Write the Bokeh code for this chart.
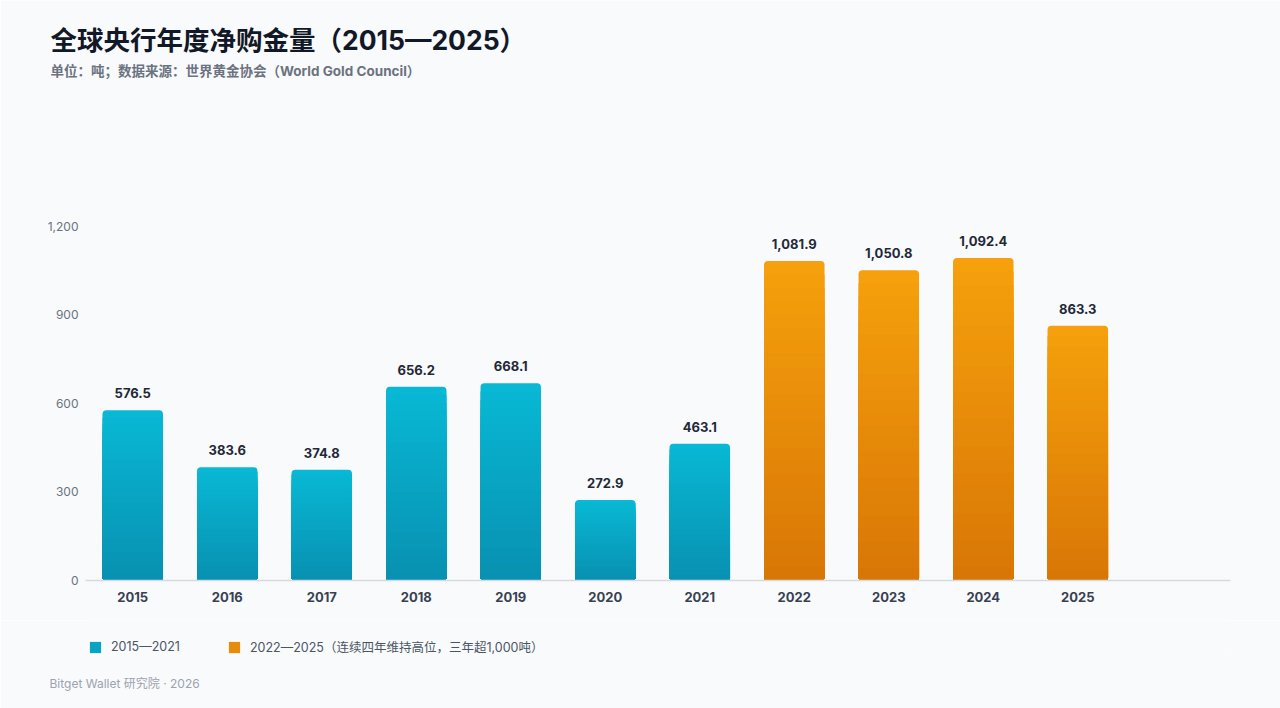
from bokeh.plotting import figure
from bokeh.models import ColumnDataSource, Range1d, FixedTicker, Title, Legend, LegendItem
from bokeh.layouts import column
from bokeh.core.properties import value
from bokeh.embed import file_html
from bokeh.resources import INLINE

years = ["2015", "2016", "2017", "2018", "2019", "2020", "2021", "2022", "2023", "2024", "2025"]
tonnes = [576.5, 383.6, 374.8, 656.2, 668.1, 272.9, 463.1, 1081.9, 1050.8, 1092.4, 863.3]
group = ["a"] * 7 + ["b"] * 4
y_ticks = [0, 300, 600, 900, 1200]
legend_labels = ["2015—2021", "2022—2025（连续四年维持高位，三年超1,000吨）"]

FONT = "Inter, 'Noto Sans CJK SC', sans-serif"
BG = "#f9fafc"

colors = {"a": ((8, 145, 178), (8, 184, 212)), "b": ((217, 119, 6), (245, 160, 12))}

def mix(c0, c1, t):
    return "#%02x%02x%02x" % tuple(int(round(a + (b - a) * t)) for a, b in zip(c0, c1))

W, H1, H2 = 1280, 620, 88
p = figure(width=W, height=H1, output_backend="svg", toolbar_location=None,
           x_range=Range1d(-0.5, 11.616), y_range=Range1d(0, 1250),
           min_border_left=85, min_border_right=50, min_border_top=211, min_border_bottom=40)
p.background_fill_color = BG
p.border_fill_color = BG
p.outline_line_color = None
p.grid.grid_line_color = None

xs = list(range(len(years)))
K = 24
# nested layers: tallest first (top colour), shorter ones cover the lower part with darker shades
for k in range(K):
    frac = (K - k) / K
    t = 1 - k / (K - 1)
    src = ColumnDataSource(dict(
        x=xs,
        top=[v * frac for v in tonnes],
        color=[mix(colors[g][0], colors[g][1], t) for g in group],
    ))
    br = (4, 4, 3, 3) if k == 0 else (0, 0, 3, 3)
    p.vbar(x="x", bottom=0, top="top", width=0.64, source=src,
           fill_color="color", line_color=None, border_radius=br)

lab_src = ColumnDataSource(dict(x=xs, y=tonnes, t=["{:,.1f}".format(v) for v in tonnes]))
p.text(x="x", y="y", text="t", source=lab_src, text_align="center", text_baseline="middle",
       y_offset=-17, text_font=value(FONT), text_font_style="bold", text_font_size="13px",
       text_color="#1f2937")

# axes
p.xaxis.ticker = FixedTicker(ticks=xs)
p.xaxis.major_label_overrides = {i: y for i, y in enumerate(years)}
p.xaxis.axis_line_color = "#d5d9e0"
p.xaxis.axis_line_width = 1.5
p.xaxis.major_tick_line_color = None
p.xaxis.minor_tick_line_color = None
p.xaxis.major_tick_out = 0
p.xaxis.major_tick_in = 0
p.xaxis.minor_tick_out = 0
p.xaxis.major_label_text_font = FONT
p.xaxis.major_label_text_font_style = "bold"
p.xaxis.major_label_text_font_size = "13px"
p.xaxis.major_label_text_color = "#374151"
p.xaxis.major_label_standoff = 11

p.yaxis.ticker = FixedTicker(ticks=y_ticks)
p.yaxis.major_label_overrides = {v: "{:,}".format(v) for v in y_ticks}
p.yaxis.axis_line_color = None
p.yaxis.major_tick_line_color = None
p.yaxis.minor_tick_line_color = None
p.yaxis.major_tick_out = 0
p.yaxis.major_tick_in = 0
p.yaxis.minor_tick_out = 0
p.yaxis.major_label_text_font = FONT
p.yaxis.major_label_text_font_size = "12px"
p.yaxis.major_label_text_color = "#6b7280"
p.yaxis.major_label_standoff = 7

# titles (first added sits nearest the plot): spacer, subtitle, title
p.add_layout(Title(text=" ", text_font_size="1px", standoff=130), "above")
p.add_layout(Title(text="单位：吨；数据来源：世界黄金协会（World Gold Council）", align="left", offset=-35,
                   text_font=FONT, text_font_style="bold", text_font_size="13.5px",
                   text_color="#6b7280", standoff=0), "above")
p.add_layout(Title(text="全球央行年度净购金量（2015—2025）", align="left", offset=-35,
                   text_font=FONT, text_font_style="bold", text_font_size="26.5px",
                   text_color="#111827", standoff=9), "above")

# bottom strip: legend + footer
q = figure(width=W, height=H2, output_backend="svg", toolbar_location=None,
           x_axis_type=None, y_axis_type=None, x_range=Range1d(0, 1), y_range=Range1d(0, 1),
           min_border_left=85, min_border_right=50, min_border_top=0, min_border_bottom=0)
q.background_fill_color = BG
q.border_fill_color = BG
q.outline_line_color = None
q.grid.grid_line_color = None
# legend proxies (zero-size, outside the visible range)
ra = q.vbar(x=[-5], bottom=[0], top=[0], width=0.5, fill_color=mix(*colors["a"], 0.5),
            line_color=None, border_radius=3)
rb = q.vbar(x=[-5], bottom=[0], top=[0], width=0.5, fill_color=mix(*colors["b"], 0.5),
            line_color=None, border_radius=3)
legend = Legend(items=[LegendItem(label=legend_labels[0], renderers=[ra]),
                       LegendItem(label=legend_labels[1], renderers=[rb])],
                orientation="horizontal", location=(3, -1),
                glyph_width=14, glyph_height=14, label_standoff=9, spacing=47,
                padding=0, margin=0, border_line_color=None, background_fill_alpha=0,
                label_text_font=FONT, label_text_font_size="12.5px", label_text_color="#4b5563",
                label_height=14)
q.add_layout(legend, "center")
q.add_layout(Title(text="Bitget Wallet 研究院 · 2026", align="left", offset=-36,
                   text_font=FONT, text_font_size="12px", text_color="#9ca3af",
                   text_font_style="normal", standoff=36), "below")

open("out.html", "w").write(file_html(column(p, q, spacing=0), INLINE))
